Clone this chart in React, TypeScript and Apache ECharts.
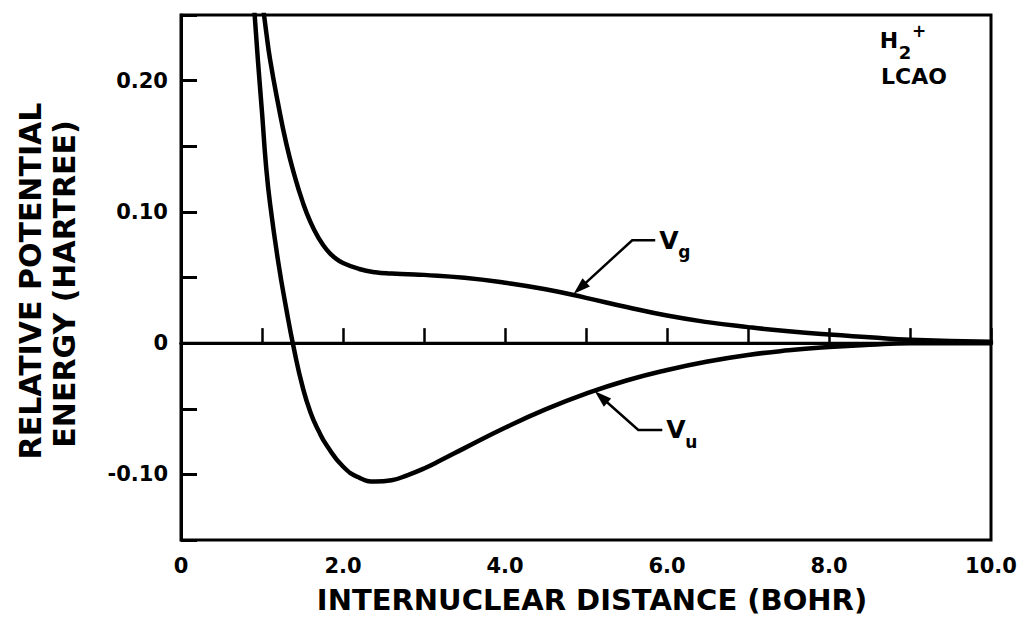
import React, { useEffect, useRef } from "react";
import * as echarts from "echarts";

// Internuclear distance (bohr) and relative potential energy (hartree)
const rVu = [0.9, 0.95, 1.0, 1.05, 1.1, 1.2, 1.3, 1.4, 1.5, 1.6, 1.7, 1.8, 2.0, 2.2, 2.4, 2.6, 2.8, 3.0, 3.2, 3.5, 4.0, 4.5, 5.0, 5.5, 6.0, 6.5, 7.0, 7.5, 8.0, 8.5, 9.0, 10.0];
const vu = [0.258, 0.215, 0.176, 0.135, 0.106, 0.062, 0.026, -0.006, -0.033, -0.053, -0.067, -0.078, -0.094, -0.1025, -0.1055, -0.1045, -0.1005, -0.0955, -0.0895, -0.08, -0.0645, -0.0505, -0.0385, -0.0285, -0.0205, -0.014, -0.009, -0.0055, -0.003, -0.0012, 0.0, 0.0];

const rVg = [1.0, 1.05, 1.1, 1.2, 1.3, 1.4, 1.5, 1.6, 1.7, 1.8, 1.9, 2.0, 2.2, 2.4, 2.6, 2.8, 3.0, 3.5, 4.0, 4.5, 5.0, 5.5, 6.0, 6.5, 7.0, 7.5, 8.0, 8.5, 9.0, 10.0];
const vg = [0.262, 0.238, 0.216, 0.182, 0.152, 0.128, 0.108, 0.092, 0.08, 0.071, 0.065, 0.061, 0.0565, 0.054, 0.053, 0.0525, 0.052, 0.0498, 0.046, 0.041, 0.0345, 0.0275, 0.021, 0.016, 0.0122, 0.009, 0.0065, 0.0045, 0.0025, 0.001];

const rZero = [0, 10];
const vZero = [0, 0];

const xLabelValues = [0, 2, 4, 6, 8, 10];
const xLabelTexts = ["0", "2.0", "4.0", "6.0", "8.0", "10.0"];
const yLabelValues = [-0.1, 0, 0.1, 0.2];
const yLabelTexts = ["-0.10", "0", "0.10", "0.20"];

// curve labels: name, subscript, arrow tip on the curve (data coords)
const labelMain = ["V", "V"];
const labelSub = ["g", "u"];
const labelR = [4.83, 5.09];
const labelV = [0.0365, -0.0357];

const FONT = "DejaVu Sans";

function zip(xs: number[], ys: number[]) {
  return xs.map((x, i) => [x, ys[i]]);
}

function findLabel(vals: number[], texts: string[], v: number) {
  for (let i = 0; i < vals.length; i++) {
    if (Math.abs(vals[i] - v) < 1e-6) return texts[i];
  }
  return "";
}

export default function App() {
  const ref = useRef<HTMLDivElement>(null);
  useEffect(() => {
    if (!ref.current) return;
    const chart = echarts.init(ref.current, null, { renderer: "svg" });
    const lineSeries = (name: string, data: number[][], width: number, smooth: number) => ({
      name,
      type: "line",
      data,
      showSymbol: false,
      symbol: "none",
      smooth,
      clip: true,
      lineStyle: { color: "#000", width, cap: "round", join: "round" },
      z: 3,
    });
    chart.setOption({
      animation: false,
      backgroundColor: "#fff",
      grid: {
        left: 181,
        top: 15,
        width: 810,
        height: 525,
        show: true,
        borderColor: "#000",
        borderWidth: 3,
        backgroundColor: "transparent",
      },
      xAxis: {
        type: "value",
        min: 0,
        max: 10,
        interval: 1,
        axisLine: { show: true, lineStyle: { color: "#000", width: 3 } },
        axisTick: { show: true, inside: true, length: 15, lineStyle: { color: "#000", width: 2.5 } },
        splitLine: { show: false },
        axisLabel: {
          margin: 15,
          color: "#000",
          fontFamily: FONT,
          fontWeight: "bold",
          fontSize: 21,
          formatter: (v: number) => findLabel(xLabelValues, xLabelTexts, v),
        },
      },
      yAxis: {
        type: "value",
        min: -0.15,
        max: 0.25,
        interval: 0.05,
        axisLine: { show: true, lineStyle: { color: "#000", width: 3 } },
        axisTick: { show: true, inside: true, length: 16, lineStyle: { color: "#000", width: 3 } },
        splitLine: { show: false },
        axisLabel: {
          margin: 13,
          color: "#000",
          fontFamily: FONT,
          fontWeight: "bold",
          fontSize: 21,
          formatter: (v: number) => findLabel(yLabelValues, yLabelTexts, v),
        },
      },
      series: [
        lineSeries("zero", zip(rZero, vZero), 3, 0),
        lineSeries("Vg", zip(rVg, vg), 4.5, 0.5),
        lineSeries("Vu", zip(rVu, vu), 4.5, 0.5),
      ],
    });

    const graphics: any[] = [];
    const dirs = [
      [60, -55, 23],
      [45, 40, 24],
    ];
    for (let i = 0; i < labelMain.length; i++) {
      const p = chart.convertToPixel({ gridIndex: 0 }, [labelR[i], labelV[i]]) as number[];
      const [dx, dy, hx] = dirs[i];
      const len = Math.sqrt(dx * dx + dy * dy);
      const ux = dx / len;
      const uy = dy / len;
      const nx = -uy;
      const ny = ux;
      const ah = 17;
      const aw = 5.5;
      const tip = [p[0] + ux * 2, p[1] + uy * 2];
      graphics.push({
        type: "polygon",
        shape: {
          points: [
            tip,
            [tip[0] + ux * ah + nx * aw, tip[1] + uy * ah + ny * aw],
            [tip[0] + ux * ah - nx * aw, tip[1] + uy * ah - ny * aw],
          ],
        },
        style: { fill: "#000" },
        z: 10,
      });
      const elbow = [p[0] + dx, p[1] + dy];
      const end = [elbow[0] + hx, elbow[1]];
      graphics.push({
        type: "polyline",
        shape: { points: [[tip[0] + ux * 10, tip[1] + uy * 10], elbow, end] },
        style: { stroke: "#000", lineWidth: 2.5, fill: null },
        z: 10,
      });
      graphics.push({
        type: "text",
        x: end[0] + 4,
        y: end[1],
        style: {
          text: labelMain[i],
          fontFamily: FONT,
          fontWeight: "bold",
          fontSize: 25,
          fill: "#000",
          textAlign: "left",
          textVerticalAlign: "middle",
        },
        z: 10,
      });
      graphics.push({
        type: "text",
        x: end[0] + 23,
        y: end[1] + 12,
        style: {
          text: labelSub[i],
          fontFamily: FONT,
          fontWeight: "bold",
          fontSize: 17,
          fill: "#000",
          textAlign: "left",
          textVerticalAlign: "middle",
        },
        z: 10,
      });
    }

    const txt = (text: string, x: number, y: number, size: number, rotation = 0, align = "center") => ({
      type: "text",
      x,
      y,
      rotation,
      style: {
        text,
        fontFamily: FONT,
        fontWeight: "bold",
        fontSize: size,
        fill: "#000",
        textAlign: align,
        textVerticalAlign: "middle",
      },
      z: 10,
    });

    graphics.push(txt("RELATIVE POTENTIAL", 30, 281, 30, Math.PI / 2));
    graphics.push(txt("ENERGY (HARTREE)", 64, 284, 30, Math.PI / 2));
    graphics.push(txt("INTERNUCLEAR DISTANCE (BOHR)", 592, 600, 29));
    graphics.push(txt("H", 889, 40, 22));
    graphics.push(txt("2", 905, 52, 18));
    graphics.push(txt("+", 919, 31, 17));
    graphics.push(txt("LCAO", 914, 76, 22));

    chart.setOption({ graphic: graphics });

    return () => chart.dispose();
  }, []);
  return (
    <div
      ref={ref}
      style={{ position: "fixed", left: 0, top: 0, width: 1027, height: 626, background: "#fff" }}
    />
  );
}
